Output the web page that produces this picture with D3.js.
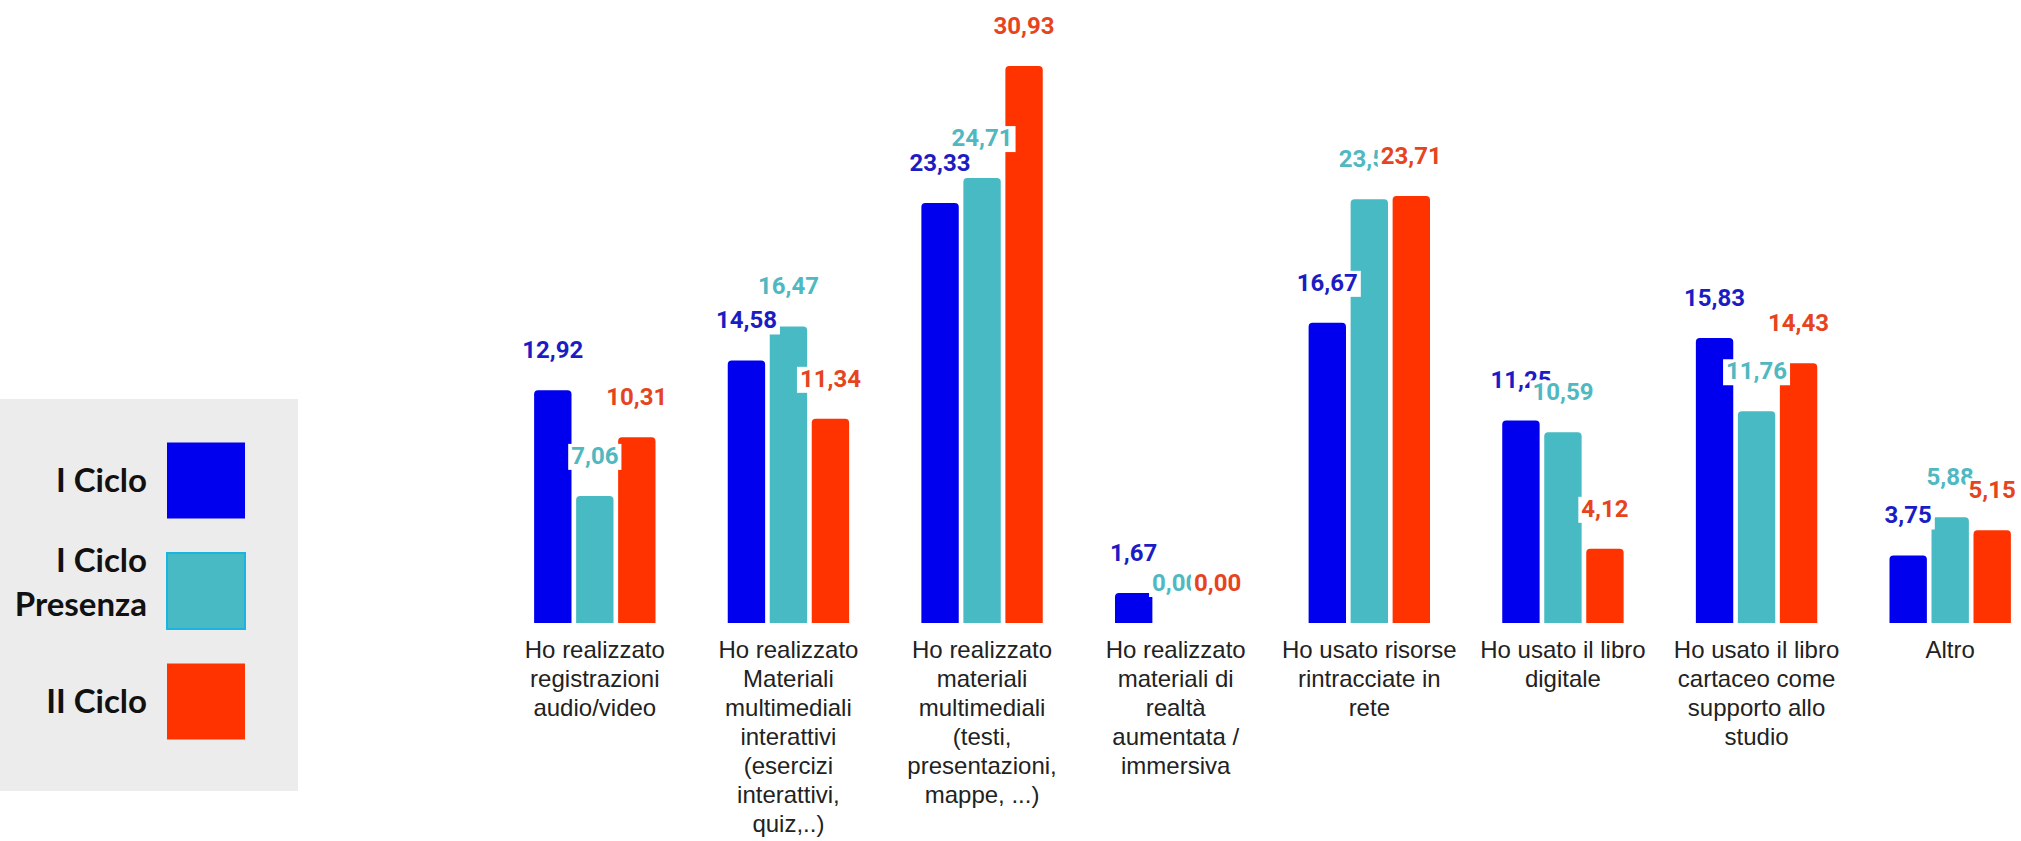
<!DOCTYPE html>
<html>
<head>
<meta charset="utf-8">
<script src="https://cdn.jsdelivr.net/npm/d3@7"></script>
<style>
  body { margin: 0; background: #fff; }
  svg { display: block; }
</style>
</head>
<body>
<div id="chart"></div>
<script>
// categories, line breaks as in the original
var categories = [
    "Ho realizzato\nregistrazioni\naudio/video",
    "Ho realizzato\nMateriali\nmultimediali\ninterattivi\n(esercizi\ninterattivi,\nquiz,..)",
    "Ho realizzato\nmateriali\nmultimediali\n(testi,\npresentazioni,\nmappe, ...)",
    "Ho realizzato\nmateriali di\nrealtà\naumentata /\nimmersiva",
    "Ho usato risorse\nrintracciate in\nrete",
    "Ho usato il libro\ndigitale",
    "Ho usato il libro\ncartaceo come\nsupporto allo\nstudio",
    "Altro"
];

var seriesNames = ["I Ciclo", "I Ciclo\nPresenza", "II Ciclo"];

var primoCiclo         = [12.92, 14.58, 23.33, 1.67, 16.67, 11.25, 15.83, 3.75];
var primoCicloPresenza = [7.06, 16.47, 24.71, 0.00, 23.53, 10.59, 11.76, 5.88];
var secondoCiclo       = [10.31, 11.34, 30.93, 0.00, 23.71, 4.12, 14.43, 5.15];

var barColors   = ["#0000ee", "#48bac4", "#ff3300"];
var labelColors = ["#1c1cc4", "#4fb8c0", "#e6441e"];

var series = [primoCiclo, primoCicloPresenza, secondoCiclo];

var width = 2021, height = 841;

var svg = d3.select("#chart").append("svg")
    .attr("width", width)
    .attr("height", height);

//scales
var x0 = d3.scaleBand()
    .domain(d3.range(categories.length))
    .range([498, 2047])
    .padding(0);

var x1 = d3.scaleBand()
    .domain(d3.range(series.length))
    .range([0, x0.bandwidth()])
    .paddingInner(0.11)
    .paddingOuter(0.86);

var y = d3.scaleLinear()
    .domain([0, 34.6])
    .range([623, 0]);

function fmt(v){
    return v.toFixed(2).replace(".", ",");
}

// bar with rounded top corners
function barPath(x, yTop, w, h, r){
    if (h <= 0) return "";
    r = Math.min(r, h, w / 2);
    return "M" + x + "," + (yTop + h) +
        "V" + (yTop + r) +
        "Q" + x + "," + yTop + " " + (x + r) + "," + yTop +
        "H" + (x + w - r) +
        "Q" + (x + w) + "," + yTop + " " + (x + w) + "," + (yTop + r) +
        "V" + (yTop + h) + "Z";
}

var cells = [];
categories.forEach((c, i)=>{
    series.forEach((s, k)=>{
        cells.push({cat: i, ser: k, value: s[i]});
    })
})

var bars = svg.append("g");
bars.selectAll("path").data(cells).enter().append("path")
    .attr("d", (d)=>{
        var bx = x0(d.cat) + x1(d.ser);
        return barPath(bx, y(d.value), x1.bandwidth(), y(0) - y(d.value), 4);
    })
    .attr("fill", (d)=>barColors[d.ser]);

// value labels, each on a small white box (later ones cover earlier ones)
var labels = svg.append("g")
    .style("font-family", "Roboto, 'Noto Sans', sans-serif")
    .style("font-weight", "bold")
    .style("font-size", "24px");

cells.forEach((d)=>{
    var g = labels.append("g");
    var bg = g.append("rect").attr("fill", "#fff");
    var t = g.append("text")
        .attr("x", x0(d.cat) + x1(d.ser) + x1.bandwidth() / 2)
        .attr("y", y(d.value) - 32)
        .attr("text-anchor", "middle")
        .attr("fill", labelColors[d.ser])
        .text(fmt(d.value));
    var bb = t.node().getBBox();
    bg.attr("x", bb.x - 3)
        .attr("y", bb.y + 2)
        .attr("width", bb.width + 6)
        .attr("height", bb.height - 2);
})

// category labels
var catText = svg.append("g")
    .style("font-family", "'Liberation Sans', Arial, sans-serif")
    .style("font-size", "24px")
    .attr("fill", "#222");

categories.forEach((c, i)=>{
    var t = catText.append("text")
        .attr("x", x0(i) + x0.bandwidth() / 2)
        .attr("y", y(0) + 35)
        .attr("text-anchor", "middle");
    c.split("\n").forEach((line, j)=>{
        t.append("tspan")
            .attr("x", x0(i) + x0.bandwidth() / 2)
            .attr("dy", j == 0 ? 0 : 29)
            .text(line);
    })
})

// legend
var legend = svg.append("g");
legend.append("rect")
    .attr("x", 0)
    .attr("y", 399)
    .attr("width", 298)
    .attr("height", 392)
    .attr("fill", "#ececec");

var legendY = d3.scalePoint()
    .domain(d3.range(seriesNames.length))
    .range([480.5, 701.5]);

seriesNames.forEach((name, k)=>{
    var cy = legendY(k);
    legend.append("rect")
        .attr("x", 167)
        .attr("y", cy - 38)
        .attr("width", 78)
        .attr("height", 76)
        .attr("fill", barColors[k])
        .attr("stroke", k == 1 ? "#1ab4e0" : "none")
        .attr("stroke-width", 2);
    var lines = name.split("\n");
    var t = legend.append("text")
        .attr("text-anchor", "end")
        .attr("y", cy + 11.5 - (lines.length - 1) * 30.5)
        .style("font-family", "Lato, 'Open Sans', sans-serif")
        .style("font-weight", "bold")
        .style("font-size", "33px")
        .attr("fill", "#111");
    lines.forEach((line, j)=>{
        t.append("tspan")
            .attr("x", 147)
            .attr("dy", j == 0 ? 0 : 44)
            .text(line);
    })
})
</script>
</body>
</html>
